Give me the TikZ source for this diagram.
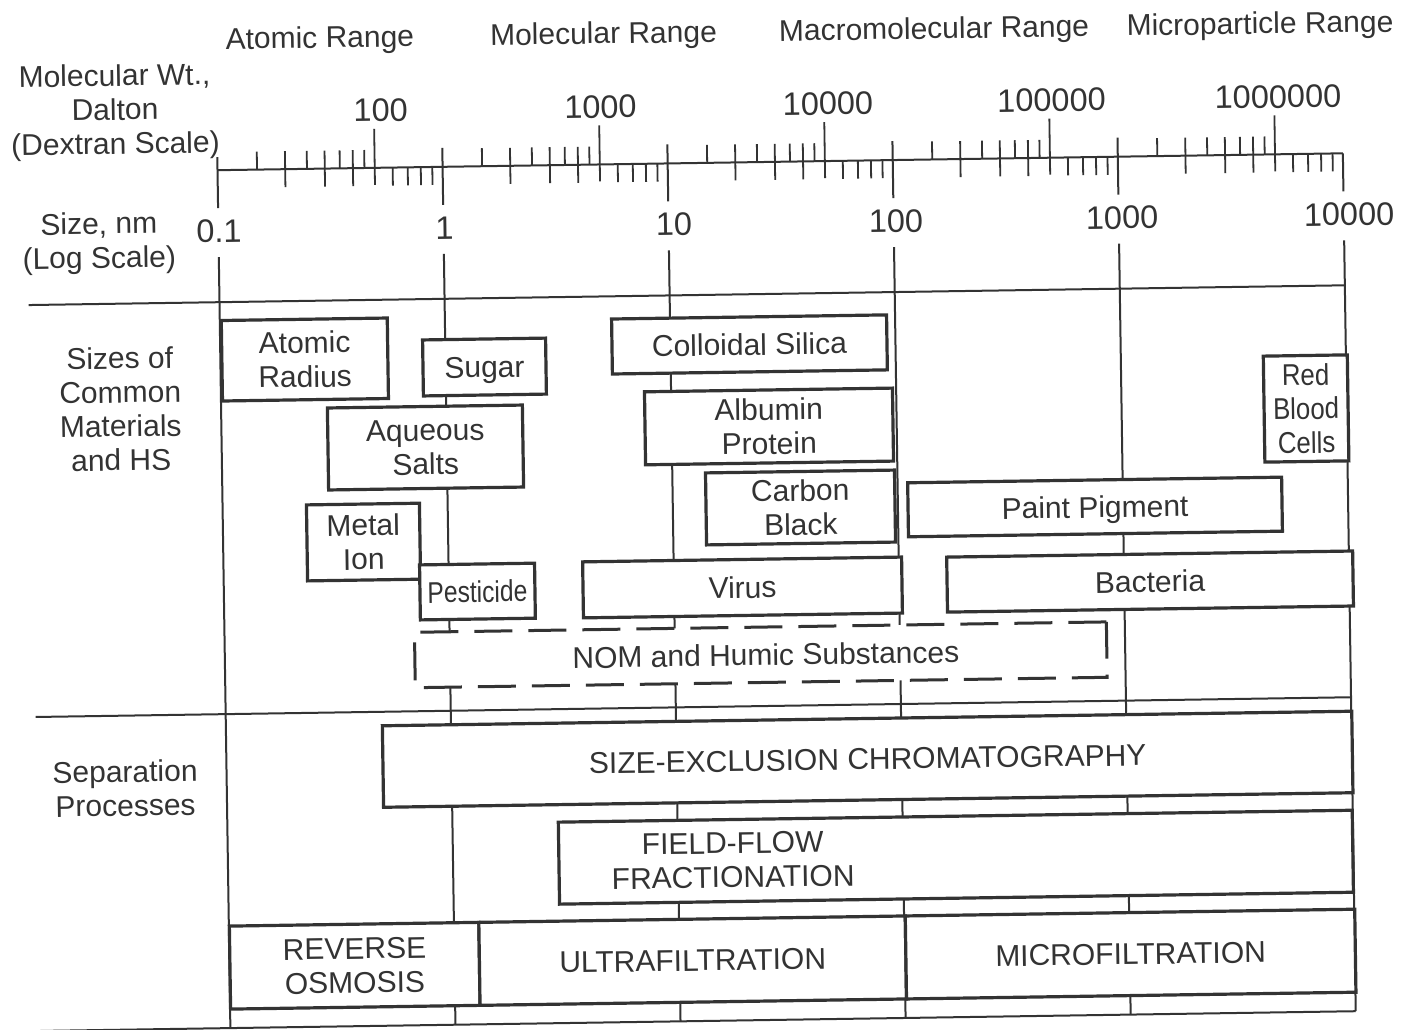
\documentclass[tikz,border=0pt]{standalone}
\usepackage{fontspec}
\setmainfont{Liberation Sans}
\usepackage{graphicx}
\definecolor{ink}{gray}{0.2}
\definecolor{txt}{gray}{0.2}
\begin{document}
\begin{tikzpicture}[x=1pt,y=-1pt,
  every node/.style={font=\fontsize{30}{34}\selectfont, text=txt, inner sep=0pt},
  numlbl/.style={font=\fontsize{32.5}{36}\selectfont},
  gridline/.style={draw=ink, line width=2pt},
  tickmark/.style={draw=ink, line width=1.8pt},
  sepline/.style={draw=ink, line width=2pt},
  matbox/.style={draw=ink, line width=3.2pt, fill=white, align=center},
  nombox/.style={draw=ink, line width=3pt, fill=white, dash pattern=on 38pt off 16pt},
  lbl/.style={align=center}
]
\useasboundingbox (0,0) rectangle (1401,1029);
\begin{scope}[rotate around={0.86:(700,600)}, transform shape]

% ---------- axis ----------
\coordinate (ax0) at (224,163);
\coordinate (ax5) at (1349.5,163);
\draw[gridline] (ax0) -- (ax5);

% decade (nm) lines
\foreach \k/\ytop in {0/150,1/144,2/144,3/144,4/144,5/163} {
  \pgfmathsetmacro\dx{224+225.1*\k}
  \draw[gridline] (\dx,\ytop) -- (\dx,201);
  \draw[gridline] (\dx,250) -- (\dx,1021);
}

% molecular weight ticks
\foreach \j in {1,...,5} {
  \foreach \m in {3,...,9} {
    \pgfmathsetmacro\tx{-68.96+225.1*(\j+log10(\m))}
    \pgfmathtruncatemacro\odd{mod(\m,2)}
    \ifnum\odd=1
      \draw[tickmark] (\tx,163) -- (\tx,145);
    \else
      \draw[tickmark] (\tx,145) -- (\tx,181);
    \fi
  }
}
\foreach \j in {2,...,6} {
  \pgfmathsetmacro\tx{-68.96+225.1*\j}
  \draw[tickmark] (\tx,124) -- (\tx,180);
}
% nm minor ticks
\foreach \k in {0,...,4} {
  \foreach \m in {6,...,9} {
    \pgfmathsetmacro\tx{224+225.1*(\k+log10(\m))}
    \draw[tickmark] (\tx,163) -- (\tx,181);
  }
}

% ---------- separators ----------
\draw[sepline] (33,295) -- (1349.5,295);
\draw[sepline] (34,707) -- (1349.5,707);
\draw[sepline] (34,1021) -- (1349.5,1021);

% ---------- header texts ----------
\node[anchor=base] (hAtomic) at (328.3,42.3) {Atomic Range};
\node[anchor=base] (hMolec) at (612,42.3) {Molecular Range};
\node[anchor=base] (hMacro) at (942.6,42.3) {Macromolecular Range};
\node[anchor=base] (hMicro) at (1268.6,42.3) {Microparticle Range};

\node[lbl] (mwtitle) at (122.4,103.6) {Molecular Wt.,\\Dalton\\(Dextran Scale)};
\node[lbl] (nmtitle) at (104.5,234.5) {Size, nm\\(Log Scale)};

% molecular weight labels
\node[numlbl] (mw2) at (388,105.5) {100};
\node[numlbl] (mw3) at (607.9,105.5) {1000};
\node[numlbl] (mw4) at (835.4,105.5) {10000};
\node[numlbl] (mw5) at (1059,105.5) {100000};
\node[numlbl] (mw6) at (1285.5,105.5) {1000000};

% size labels
\node[numlbl] (nm0) at (224.5,224) {0.1};
\node[numlbl] (nm1) at (450,224) {1};
\node[numlbl] (nm2) at (679.6,224) {10};
\node[numlbl] (nm3) at (901.7,224) {100};
\node[numlbl] (nm4) at (1127.8,224) {1000};
\node[numlbl] (nm5) at (1354.8,224) {10000};

% ---------- left column ----------
\node[lbl] (materials) at (123.4,400.3) {Sizes of\\Common\\Materials\\and HS};
\node[lbl] (separation) at (122.5,779.8) {Separation\\Processes};

% ---------- materials ----------
\node[matbox, minimum width=166pt, minimum height=80.5pt] (atomic) at (308.5,353.6) {Atomic\\Radius};
\node[matbox, minimum width=123pt, minimum height=56pt, text depth=0pt] (sugar) at (488,363.8) {Sugar};
\node[matbox, minimum width=195pt, minimum height=82pt] (salts) at (427.8,443.4) {Aqueous\\Salts};
\node[matbox, minimum width=113pt, minimum height=76pt] (metal) at (364.4,537) {Metal\\Ion};
\node[matbox, minimum width=115pt, minimum height=55pt] (pesticide) at (477.6,588.2) {\scalebox{0.82}[1]{Pesticide}};
\node[matbox, minimum width=275pt, minimum height=55pt] (silica) at (753.3,345.2) {Colloidal Silica};
\node[matbox, minimum width=248pt, minimum height=73pt] (albumin) at (771.6,427.5) {Albumin\\Protein};
\node[matbox, minimum width=189pt, minimum height=72pt] (carbon) at (801.9,509) {Carbon\\Black};
\node[matbox, minimum width=319pt, minimum height=56pt] (virus) at (742.7,588.1) {Virus};
\node[matbox, minimum width=374pt, minimum height=54pt, text depth=0pt] (paint) at (1096.4,512.9) {Paint Pigment};
\node[matbox, minimum width=406pt, minimum height=55pt] (bacteria) at (1150.3,588.3) {Bacteria};
\node[matbox, minimum width=84pt, minimum height=106pt] (rbc) at (1308.9,417.6) {\scalebox{0.86}[1]{Red}\\\scalebox{0.86}[1]{Blood}\\\scalebox{0.86}[1]{Cells}};
\node[nombox, minimum width=692pt, minimum height=55.4pt] (nom) at (760,655.7) {\hspace*{10pt}NOM and Humic Substances};

% ---------- separation processes ----------
\node[matbox, minimum width=969.5pt, minimum height=81.5pt] (sec) at (865.25,761.75) {SIZE-EXCLUSION CHROMATOGRAPHY};
\node[matbox, minimum width=794pt, minimum height=82pt] (fff) at (952,861) {};
\node[lbl] (fffl) at (729,860.7) {FIELD-FLOW\\FRACTIONATION};
\node[matbox, minimum width=249.5pt, minimum height=83pt] (ro) at (349.25,960.5) {REVERSE\\OSMOSIS};
\node[matbox, minimum width=426.5pt, minimum height=83pt] (uf) at (687.25,960.5) {ULTRAFILTRATION};
\node[matbox, minimum width=449.5pt, minimum height=83pt] (mf) at (1125.25,960.5) {MICROFILTRATION};

\end{scope}
\end{tikzpicture}
\end{document}
